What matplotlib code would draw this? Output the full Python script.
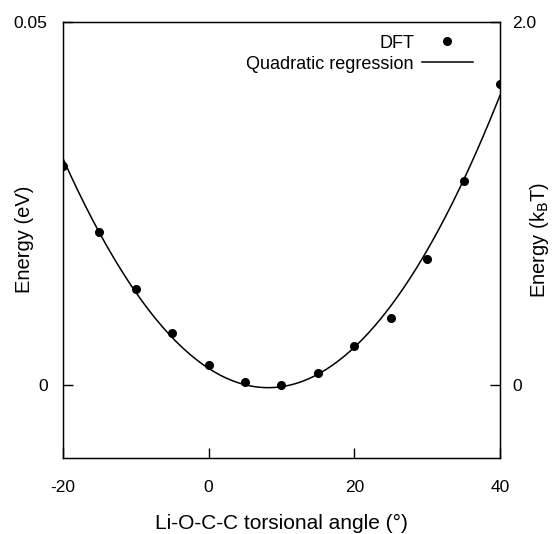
import numpy as np
import matplotlib
matplotlib.use("Agg")
import matplotlib.pyplot as plt

plt.rcParams['font.family'] = ['Liberation Sans', 'DejaVu Sans']

# torsional angle (deg) and DFT energy (eV)
angle = [-20, -15, -10, -5, 0, 5, 10, 15, 20, 25, 30, 35, 40]
energy = [0.0302, 0.0210, 0.0132, 0.0071, 0.0028, 0.0004, 0.0000,
          0.0016, 0.0053, 0.0092, 0.0173, 0.0281, 0.0415]
xticks = [-20, 0, 20, 40]
xticklabels = ['-20', '0', '20', '40']

coef = np.polyfit(angle, energy, 2)
xs = np.linspace(-20, 40, 300)

fig = plt.figure(figsize=(5.54, 5.34), dpi=100)
ax = fig.add_axes([63 / 554, 1 - 457.5 / 534, 437 / 554, 435.5 / 534])

ax.plot(angle, energy, 'o', color='black', ms=5.5, label='DFT')
ax.plot(xs, np.polyval(coef, xs), '-', color='black', lw=1.1,
        label='Quadratic regression')

ax.set_xlim(-20, 40)
ax.set_ylim(-0.01, 0.05)
ax.set_xticks(xticks)
ax.set_xticklabels(xticklabels)
ax.set_yticks([0, 0.05])
ax.set_yticklabels(['0', '0.05'])
ax.tick_params(direction='in', length=7, width=1, labelsize=12.5)
ax.tick_params(axis='x', pad=16)
ax.tick_params(axis='y', pad=11)
for s in ax.spines.values():
    s.set_linewidth(1)

ax.set_xlabel('Li-O-C-C torsional angle (°)', fontsize=15, labelpad=14)
ax.set_ylabel('Energy (eV)', fontsize=14.5, va='center')
ax.yaxis.set_label_coords(-0.088, 0.5)

ax2 = ax.twinx()
ax2.set_ylim(-0.4, 2.0)
ax2.set_yticks([0, 2.0])
ax2.set_yticklabels(['0', '2.0'])
ax2.tick_params(direction='in', length=7, width=1, labelsize=12.5, pad=9)
ax2.set_ylabel('Energy (k$_\\mathrm{B}$T)', fontsize=14.5, va='center')
ax2.yaxis.set_label_coords(1.09, 0.5)

ax.legend(loc='upper right', bbox_to_anchor=(0.962, 0.996), frameon=False,
          markerfirst=False, fontsize=13, handlelength=2.8,
          handletextpad=0.45, labelspacing=0.22, borderaxespad=0.2,
          numpoints=1)
for t in ax.get_legend().get_texts():
    t.set_ha('right')

fig.savefig('out.png', dpi=100)
